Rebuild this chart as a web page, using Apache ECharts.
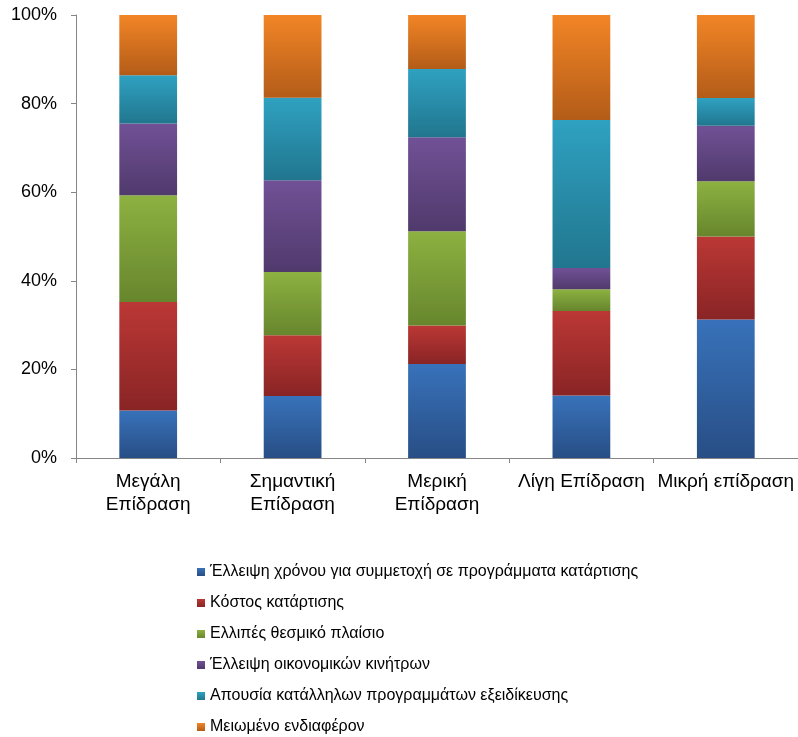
<!DOCTYPE html>
<html>
<head>
<meta charset="utf-8">
<script src="https://cdn.jsdelivr.net/npm/echarts@6/dist/echarts.min.js"></script>
<style>
  html, body { margin: 0; padding: 0; background: #fff; }
  #chart { width: 798px; height: 737px; }
</style>
</head>
<body>
<div id="chart"></div>
<script>
// categories on the x axis
var categories = ['Μεγάλη\nΕπίδραση', 'Σημαντική\nΕπίδραση', 'Μερική\nΕπίδραση', 'Λίγη Επίδραση', 'Μικρή επίδραση'];

// series names (legend order)
var seriesNames = [
    'Έλλειψη χρόνου για συμμετοχή σε προγράμματα κατάρτισης',
    'Κόστος κατάρτισης',
    'Ελλιπές θεσμικό πλαίσιο',
    'Έλλειψη οικονομικών κινήτρων',
    'Απουσία κατάλληλων προγραμμάτων εξειδίκευσης',
    'Μειωμένο ενδιαφέρον'
];

// shares in percent
var lackOfTime   = [10.7, 14.0, 21.2, 14.1, 31.25];
var cost         = [24.5, 13.7, 8.7, 19.1, 18.75];
var framework    = [24.1, 14.3, 21.3, 4.9, 12.5];
var incentives   = [16.2, 20.7, 21.2, 4.8, 12.5];
var programmes   = [10.9, 18.6, 15.4, 33.4, 6.25];
var interest     = [13.6, 18.7, 12.2, 23.7, 18.75];

var yTicks = [0, 20, 40, 60, 80, 100];

// top / bottom colours of each series gradient
var gradients = [
    ['#3872BA', '#284E85'],
    ['#BB3835', '#892425'],
    ['#8DB141', '#67862D'],
    ['#715196', '#503A6C'],
    ['#2FA1C1', '#21768E'],
    ['#F28526', '#B35C18']
];

var values = [lackOfTime, cost, framework, incentives, programmes, interest];

function grad(c){
    return new echarts.graphic.LinearGradient(0, 0, 0, 1, [
        { offset: 0, color: c[0] },
        { offset: 1, color: c[1] }
    ]);
}

var series = seriesNames.map(function(name, i){
    return {
        name: name,
        type: 'bar',
        stack: 'total',
        barWidth: '40%',
        data: values[i],
        itemStyle: { color: grad(gradients[i]) },
        emphasis: { disabled: true }
    };
});

var chart = echarts.init(document.getElementById('chart'), null, { renderer: 'canvas' });

chart.setOption({
    animation: false,
    backgroundColor: '#fff',
    textStyle: { fontFamily: 'Liberation Sans, Arial, sans-serif' },
    grid: { left: 76, top: 15, width: 723, height: 443, containLabel: false },
    xAxis: {
        type: 'category',
        data: categories,
        axisLine: { lineStyle: { color: '#868686', width: 1 } },
        axisTick: { show: true, length: 5, lineStyle: { color: '#868686' } },
        axisLabel: {
            interval: 0,
            color: '#000',
            fontSize: 19,
            lineHeight: 23,
            margin: 12
        }
    },
    yAxis: {
        type: 'value',
        min: yTicks[0],
        max: yTicks[yTicks.length - 1],
        interval: 20,
        axisLine: { show: true, lineStyle: { color: '#868686', width: 1 } },
        axisTick: { show: true, length: 5, lineStyle: { color: '#868686' } },
        splitLine: { show: false },
        axisLabel: {
            color: '#000',
            fontSize: 18,
            margin: 19,
            formatter: '{value}%'
        }
    },
    legend: {
        orient: 'vertical',
        left: 197,
        top: 564,
        padding: 0,
        itemWidth: 8,
        itemHeight: 8,
        itemGap: 15,
        icon: 'rect',
        textStyle: { color: '#000', fontSize: 16 },
        data: seriesNames
    },
    series: series
});
</script>
</body>
</html>
